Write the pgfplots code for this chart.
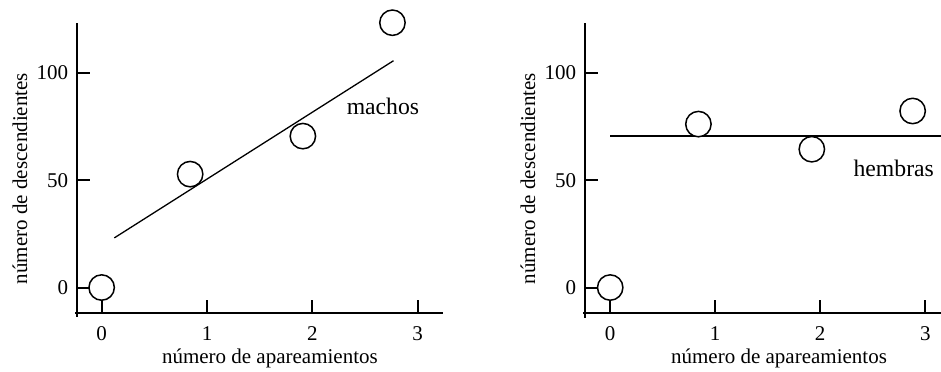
\documentclass[border=0pt]{standalone}
\usepackage{pgfplots}
\pgfplotsset{compat=1.18}
\usepackage{fontspec}
\setmainfont{Liberation Serif}
\begin{document}
\begin{tikzpicture}
\pgfplotsset{
  panel/.style={
    scale only axis, height=145.3pt,
    anchor=south west,
    axis x line=bottom, axis y line=left,
    axis line style={-, line width=1pt},
    ymin=-12, ymax=123.3,
    xtick={0,1,2,3}, ytick={0,50,100},
    tick align=inside, major tick length=6.5pt,
    tick style={line width=1pt, black},
    /pgf/number format/assume math mode=true,
    tick label style={font=\fontsize{10.5}{12}\selectfont},
    xticklabel style={yshift=-2.9pt},
    yticklabel style={xshift=-0.9pt},
    label style={font=\fontsize{10.5}{12}\selectfont},
    xlabel={número de apareamientos},
    ylabel={número de descendientes},
    clip=false,
  },
  pts/.style={only marks, mark=*, mark size=6.35pt,
    mark options={fill=white, draw=black, line width=0.75pt}},
  fit/.style={no marks, black, line width=0.65pt},
}
\useasboundingbox (0,0) rectangle (470.5pt,185.5pt);
% left panel: machos
\begin{axis}[panel, at={(38.5pt,28.85pt)}, width=183pt,
    xmin=-0.234, xmax=3.24,
    xlabel style={at={(axis description cs:0.527,-0.155)}, anchor=center},
    ylabel style={at={(axis description cs:-0.156,0.464)}, anchor=center}]
  \draw[line width=1pt] (axis cs:-0.234,-12) -- (axis cs:-0.234,-13.7);
  \draw[line width=1pt] (axis cs:-0.234,-12) -- (axis cs:-0.25,-12);
  \addplot[fit] coordinates {(0.12,23.1) (2.77,105.6)};
  \addplot[pts] coordinates {(0,0) (0.84,52.8) (1.91,70.5) (2.76,123.3)};
  \node[font=\fontsize{11.85}{14}\selectfont, inner sep=0pt] at (axis cs:2.67,84.5) {machos};
\end{axis}
% right panel: hembras
\begin{axis}[panel, at={(292.5pt,28.85pt)}, width=178pt,
    xmin=-0.24, xmax=3.15,
    xlabel style={at={(axis description cs:0.545,-0.155)}, anchor=center},
    ylabel style={at={(axis description cs:-0.16,0.464)}, anchor=center}]
  \draw[line width=1pt] (axis cs:-0.24,-12) -- (axis cs:-0.24,-14.3);
  \draw[line width=1pt] (axis cs:-0.24,-12) -- (axis cs:-0.256,-12);
  \addplot[fit] coordinates {(0,70.5) (3.15,70.5)};
  \addplot[pts] coordinates {(0,0) (0.84,76.1) (1.92,64.4) (2.88,82.2)};
  \node[font=\fontsize{11.85}{14}\selectfont, inner sep=0pt] at (axis cs:2.70,55.4) {hembras};
\end{axis}
\end{tikzpicture}
\end{document}
